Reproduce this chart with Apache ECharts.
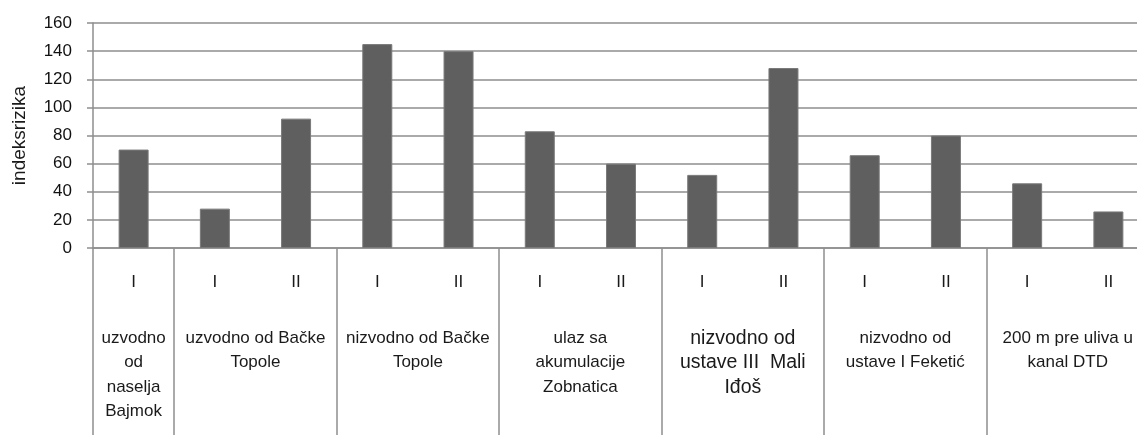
<!DOCTYPE html>
<html>
<head>
<meta charset="utf-8">
<script src="https://cdn.jsdelivr.net/npm/echarts@6/dist/echarts.min.js"></script>
<style>
html,body{margin:0;padding:0;background:#fff;}
#chart{width:1137px;height:435px;}
</style>
</head>
<body>
<div id="chart"></div>
<script>
// Data
const periods = ['I', 'I', 'II', 'I', 'II', 'I', 'II', 'I', 'II', 'I', 'II', 'I', 'II'];
const values = [70, 28, 92, 145, 140, 83, 60, 52, 128, 66, 80, 46, 26];
const groupNames = [
  'uzvodno\nod\nnaselja\nBajmok',
  'uzvodno od Bačke\nTopole',
  'nizvodno od Bačke\nTopole',
  'ulaz sa\nakumulacije\nZobnatica',
  'nizvodno od\nustave III  Mali\nIđoš',
  'nizvodno od\nustave I Feketić',
  '200 m pre uliva u\nkanal DTD'
];
// number of categories each group spans
const groupSpans = [1, 2, 2, 2, 2, 2, 2];
const yTicks = [0, 20, 40, 60, 80, 100, 120, 140, 160];
const yName = 'indeksrizika';

// Build a half-step axis for group labels and separators
const nHalf = periods.length * 2 + 1;
const halfCats = new Array(nHalf).fill('');
const sepIdx = new Set([0]);
let pos = 0;
groupNames.forEach((g, i) => {
  const centerHalf = pos * 2 + groupSpans[i];
  halfCats[centerHalf] = i === 4 ? '{big|' + g + '}' : g;
  pos += groupSpans[i];
  sepIdx.add(pos * 2);
});

const chart = echarts.init(document.getElementById('chart'), null, {renderer: 'canvas'});
const FONT = '"Liberation Sans", Arial, sans-serif';
const gridColor = '#8e8e8e';
chart.setOption({
  animation: false,
  grid: {left: 93, top: 23, height: 225, width: 1056, outerBoundsMode: 'none', containLabel: false},
  xAxis: [
    {
      type: 'category',
      data: periods,
      boundaryGap: true,
      axisLine: {show: true, lineStyle: {color: gridColor, width: 1.5}},
      axisTick: {show: false},
      axisLabel: {interval: 0, margin: 26, color: '#1a1a1a', fontFamily: FONT, fontSize: 17}
    },
    {
      type: 'category',
      data: halfCats,
      boundaryGap: false,
      position: 'bottom',
      axisLine: {show: false},
      axisTick: {
        show: true,
        length: 190,
        interval: function (idx) { return sepIdx.has(idx); },
        lineStyle: {color: gridColor, width: 1.5}
      },
      axisLabel: {
        interval: 0,
        margin: 78,
        color: '#1a1a1a',
        fontFamily: FONT,
        fontSize: 17,
        lineHeight: 24.5,
        align: 'center',
        rich: {big: {fontSize: 19.5, lineHeight: 24.5, fontFamily: FONT, color: '#1a1a1a'}}
      },
      splitLine: {show: false}
    }
  ],
  yAxis: {
    type: 'value',
    min: 0,
    max: yTicks[yTicks.length - 1],
    interval: yTicks[1] - yTicks[0],
    name: yName,
    nameLocation: 'middle',
    nameGap: 64,
    nameTextStyle: {fontFamily: FONT, fontSize: 19, color: '#1a1a1a'},
    axisLine: {show: true, lineStyle: {color: gridColor, width: 1.5}},
    axisTick: {show: true, length: 6, lineStyle: {color: gridColor, width: 1.5}},
    axisLabel: {margin: 21, color: '#111', fontFamily: FONT, fontSize: 17},
    splitLine: {show: true, lineStyle: {color: gridColor, width: 1.5}}
  },
  series: [{
    type: 'bar',
    data: values,
    barWidth: 30,
    itemStyle: {color: '#5f5f5f', borderColor: '#7a7a7a', borderWidth: 1}
  }]
});
</script>
</body>
</html>
